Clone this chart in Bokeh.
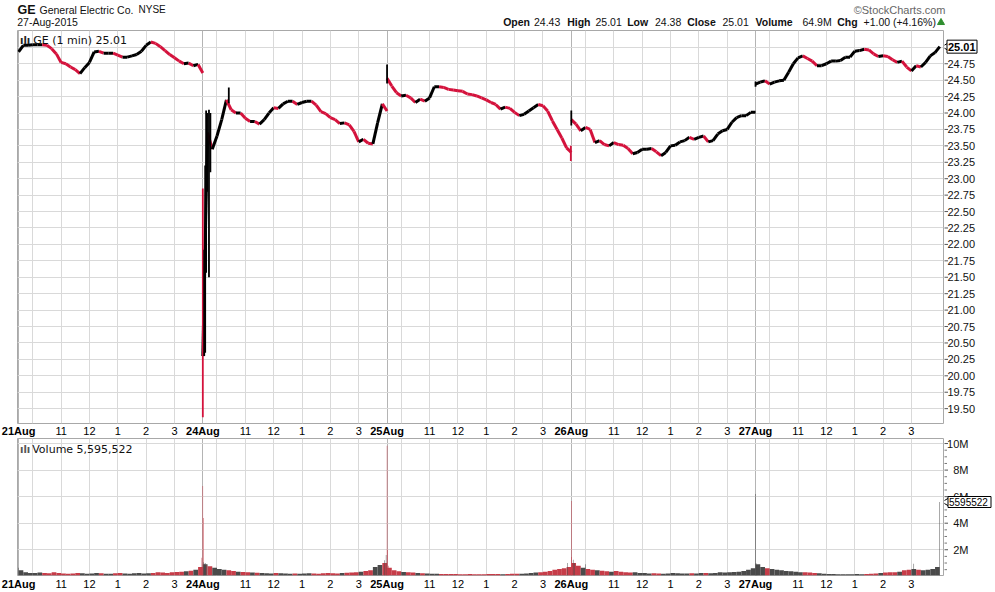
import math
from bokeh.plotting import figure
from bokeh.models import Range1d, ColumnDataSource, Grid, FixedTicker
from bokeh.layouts import column, row
from bokeh.embed import file_html
from bokeh.resources import INLINE
from bokeh.core.properties import value

# ---------------- data ----------------
day_labels = ["21Aug", "24Aug", "25Aug", "26Aug", "27Aug"]
minutes_per_day = 390
sample_step = 10
hour_minutes = [30, 90, 150, 210, 270, 330]      # 10:00 .. 3:00 (minutes after 9:30)
hour_labels = ["", "11", "12", "1", "2", "3"]

# 10-minute closes (9:30 .. 16:00)
close_aug21 = [24.93, 25.03, 25.03, 25.04, 25.04, 25.04, 25.03, 24.98, 24.90, 24.77,
               24.75, 24.70, 24.66, 24.60, 24.69, 24.77, 24.93, 24.94, 24.91, 24.91,
               24.91, 24.88, 24.85, 24.85, 24.87, 24.89, 24.94, 25.03, 25.08, 25.06,
               25.01, 24.95, 24.89, 24.84, 24.79, 24.75, 24.76, 24.72, 24.74, 24.61]
close_aug24 = [20.30, 23.70, 23.45, 23.65, 23.90, 24.20, 24.05, 24.00, 24.00, 23.92,
               23.87, 23.87, 23.83, 23.90, 24.00, 24.08, 24.07, 24.14, 24.18, 24.18,
               24.13, 24.16, 24.18, 24.18, 24.12, 24.02, 23.99, 23.93, 23.90, 23.84,
               23.85, 23.82, 23.72, 23.56, 23.60, 23.54, 23.53, 23.85, 24.14, 24.03]
close_aug25 = [24.53, 24.41, 24.31, 24.26, 24.27, 24.23, 24.16, 24.21, 24.18, 24.23,
               24.40, 24.40, 24.39, 24.36, 24.35, 24.34, 24.33, 24.29, 24.28, 24.26,
               24.23, 24.20, 24.16, 24.13, 24.06, 24.09, 24.07, 24.01, 23.96, 23.98,
               24.03, 24.08, 24.13, 24.11, 24.03, 23.88, 23.75, 23.62, 23.47, 23.40]
close_aug26 = [23.90, 23.83, 23.73, 23.78, 23.75, 23.55, 23.58, 23.52, 23.50, 23.55,
               23.52, 23.51, 23.46, 23.38, 23.40, 23.45, 23.45, 23.46, 23.41, 23.35,
               23.40, 23.50, 23.51, 23.56, 23.58, 23.63, 23.60, 23.63, 23.65, 23.56,
               23.58, 23.68, 23.73, 23.75, 23.86, 23.93, 23.96, 23.96, 24.01, 24.01]
close_aug27 = [24.44, 24.47, 24.49, 24.44, 24.47, 24.49, 24.50, 24.62, 24.75, 24.84,
               24.87, 24.83, 24.79, 24.72, 24.72, 24.75, 24.79, 24.79, 24.80, 24.85,
               24.85, 24.94, 24.95, 24.97, 24.96, 24.90, 24.86, 24.87, 24.86, 24.81,
               24.77, 24.79, 24.70, 24.64, 24.72, 24.70, 24.77, 24.87, 24.92, 25.01]
closes = [close_aug21, close_aug24, close_aug25, close_aug26, close_aug27]

# individual 1-minute bars that stick out (day index, minute, low, high, up?)
bar_day = [1, 1, 1, 1, 1, 1, 1, 1, 2, 2, 3, 4]
bar_min = [0, 3, 5, 7, 9, 13, 16, 55, 0, 389, 0, 0]
bar_low = [19.37, 20.30, 20.35, 21.57, 22.80, 21.50, 23.10, 24.15, 24.45, 23.27, 23.81, 24.40]
bar_high = [22.85, 21.92, 23.20, 24.04, 24.00, 24.05, 24.00, 24.39, 24.74, 23.50, 24.04, 24.48]
bar_up = [False, True, True, True, True, True, True, True, True, False, True, True]

price_ticks = [19.50, 19.75, 20.00, 20.25, 20.50, 20.75, 21.00, 21.25, 21.50, 21.75, 22.00,
               22.25, 22.50, 22.75, 23.00, 23.25, 23.50, 23.75, 24.00, 24.25, 24.50, 24.75]
price_tick_labels = ["19.50", "19.75", "20.00", "20.25", "20.50", "20.75", "21.00", "21.25",
                     "21.50", "21.75", "22.00", "22.25", "22.50", "22.75", "23.00", "23.25",
                     "23.50", "23.75", "24.00", "24.25", "24.50", "24.75"]
price_grid = price_ticks + [25.00]
last_close = 25.01
last_close_text = "25.01"

# volume, typical per-minute volume in each 10-minute block (thousands of shares)
vol_aug21 = [450, 300, 250, 250, 280, 250, 230, 300, 250, 220, 200, 220, 250, 230, 200, 220,
             250, 230, 200, 200, 230, 250, 220, 200, 230, 250, 220, 230, 250, 300, 280, 250,
             300, 320, 350, 380, 420, 500, 700]
vol_aug24 = [900, 750, 650, 550, 500, 450, 400, 350, 320, 300, 280, 260, 250, 230, 220, 250,
             230, 220, 200, 220, 200, 210, 230, 220, 200, 230, 250, 230, 220, 250, 260, 280,
             300, 350, 400, 450, 700, 850, 1000]
vol_aug25 = [650, 450, 380, 320, 300, 280, 250, 230, 220, 200, 200, 180, 180, 170, 170, 160,
             160, 170, 160, 150, 160, 170, 180, 170, 160, 180, 200, 190, 200, 220, 250, 280,
             300, 350, 400, 500, 550, 600, 700]
vol_aug26 = [1000, 800, 650, 550, 500, 450, 420, 380, 350, 400, 350, 300, 280, 300, 250, 250,
             220, 230, 220, 200, 220, 250, 230, 220, 210, 230, 220, 250, 240, 230, 250, 300,
             280, 300, 320, 350, 400, 500, 600]
vol_aug27 = [900, 700, 600, 550, 500, 450, 400, 380, 350, 300, 300, 280, 250, 230, 200, 180,
             170, 160, 160, 150, 150, 170, 160, 180, 200, 220, 250, 280, 300, 300, 350, 450,
             500, 550, 500, 450, 500, 550, 700]
vols = [vol_aug21, vol_aug24, vol_aug25, vol_aug26, vol_aug27]

# single-minute volume spikes (day, minute, millions, up?)
vspike_day = [0, 0, 1, 1, 1, 1, 1, 1, 1, 1, 2, 2, 2, 2, 3, 3, 3, 3, 3, 4, 4, 4, 4, 4]
vspike_min = [0, 388, 0, 1, 2, 3, 5, 8, 385, 388, 0, 1, 3, 382, 0, 1, 4, 7, 30, 0, 1, 3, 335, 389]
vspike_val = [0.64, 1.4, 6.8, 4.4, 1.05, 0.95, 1.0, 0.85, 1.2, 1.6, 9.83, 2.0, 0.8, 1.0,
              5.67, 1.45, 1.25, 1.0, 0.9, 6.2, 1.0, 0.8, 0.95, 5.595522]
vspike_up = [True, False, False, False, True, True, True, False, True, True, False, False,
             False, True, False, False, True, True, True, True, True, True, True, True]
vol_ticks = [2, 4, 6, 8, 10]
vol_tick_labels = ["2M", "4M", "6M", "8M", "10M"]
vol_minor = [0.5, 1, 1.5, 2.5, 3, 3.5, 4.5, 5, 5.5, 6.5, 7, 7.5, 8.5, 9, 9.5]
last_volume_text = "5595522"

header_items = [("Open", True), ("24.43", False), ("High", True), ("25.01", False),
                ("Low", True), ("24.38", False), ("Close", True), ("25.01", False),
                ("Volume", True), ("64.9M", False), ("Chg", True), ("+1.00 (+4.16%)", False)]

# ---------------- style / layout ----------------
RED = "#d4123c"
BLACK = "#000000"
VRED = "#c63c48"
VGRAY = "#4a4a4a"
GRID = "#d9d9d9"
DAYGRID = "#b4b4b4"
FRAME = "#a8a8a8"
SANS = "Liberation Sans"
W = 995
PANEL_L, PANEL_R = 17, 943          # panel frame edges on the page
AXIS_W = W - PANEL_R - 1            # width of the right-hand label strips
HEAD_H, PRICE_FH, MID_H, VOL_FH, FOOT_H = 29, 393, 13, 137, 15

X_START, X_END = -2.3, 1957.9
P_LO, P_HI = 19.274, 25.256
V_LO, V_HI = 0.06, 10.38
upp = (X_END - X_START) / (PANEL_R - PANEL_L)
ppu = PRICE_FH / (P_HI - P_LO)


def px(xp):
    return X_START + (xp - PANEL_L) * upp


def py(yp):
    return P_HI - (yp - 28) / ppu


day_starts = [d * minutes_per_day for d in range(5)]
hour_idx = [d * minutes_per_day + m for d in range(5) for m in hour_minutes]

x_panel = Range1d(X_START, X_END)
y_price = Range1d(P_LO, P_HI)
y_vol = Range1d(V_LO, V_HI)


def plain(width, height, xr, yr, border=0):
    f = figure(width=width, height=height, x_range=xr, y_range=yr, x_axis_type=None,
               y_axis_type=None, output_backend="svg", toolbar_location=None,
               min_border=border)
    f.outline_line_color = None
    f.background_fill_color = "white"
    f.border_fill_color = "white"
    return f


def texts(f, xs, ys, ts, size="11px", bold=False, align="left", baseline="alphabetic",
          color="#111111", font=SANS):
    f.text(x=xs, y=ys, text=ts, text_align=align, text_baseline=baseline,
           text_font=value(font), text_font_size=size,
           text_font_style="bold" if bold else "normal", text_color=color)


def panel_fig(frame_h, yr, hticks):
    f = plain(PANEL_R + 1, frame_h + 2, x_panel, yr)
    f.min_border_left = PANEL_L
    f.min_border_right = 1
    f.min_border_top = 1
    f.min_border_bottom = 1
    f.outline_line_color = FRAME
    f.add_layout(Grid(dimension=0, ticker=FixedTicker(ticks=hour_idx), grid_line_color=GRID))
    f.add_layout(Grid(dimension=0, ticker=FixedTicker(ticks=day_starts),
                      grid_line_color=DAYGRID))
    f.add_layout(Grid(dimension=1, ticker=FixedTicker(ticks=hticks), grid_line_color=GRID))
    return f


def axis_fig(frame_h, yr):
    f = plain(AXIS_W, frame_h + 2, Range1d(PANEL_R + 1, W), yr)
    f.min_border_top = 1
    f.min_border_bottom = 1
    return f


def strip(height):
    f = plain(W, height, Range1d(px(0), px(W)), Range1d(0, 1))
    texts(f, day_starts, [0.5] * 5, day_labels, bold=True, align="center", baseline="middle",
          color="black")
    hx, ht = [], []
    for d in range(5):
        for m, hl in zip(hour_minutes, hour_labels):
            if hl:
                hx.append(day_starts[d] + m)
                ht.append(hl)
    texts(f, hx, [0.5] * len(hx), ht, align="center", baseline="middle", color="black")
    return f


# ---------------- header ----------------
h = plain(W, HEAD_H, Range1d(0, W), Range1d(HEAD_H, 0))
texts(h, [17], [9], ["GE"], size="12.5px", bold=True, baseline="middle")
texts(h, [39], [9], ["General Electric Co."], size="10.5px", baseline="middle")
texts(h, [138], [9], ["NYSE"], size="10px", baseline="middle")
texts(h, [16.7], [21.5], ["27-Aug-2015"], size="10.5px", baseline="middle")
texts(h, [945], [9], ["\u00a9StockCharts.com"], align="right", color="#666666",
      baseline="middle")
hdr_x = [502.7, 533.5, 566.7, 595.0, 626.7, 654.5, 686.7, 722.0, 755.0, 802.0, 836.7, 863.0]
for (txt, bold), hx in zip(header_items, hdr_x):
    texts(h, [hx], [21.5], [txt], size="10.5px", bold=bold, baseline="middle")
h.scatter(x=[940.5], y=[22.0], marker="triangle", size=7, fill_color="#2f8f2f",
          line_color="#2f8f2f")

# ---------------- price panel ----------------
p = panel_fig(PRICE_FH, y_price, price_grid)

sx0, sy0, sx1, sy1, scol = [], [], [], [], []
for d, series in enumerate(closes):
    for i in range(len(series) - 1):
        sx0.append(day_starts[d] + i * sample_step)
        sx1.append(day_starts[d] + (i + 1) * sample_step)
        sy0.append(series[i])
        sy1.append(series[i + 1])
        scol.append(BLACK if series[i + 1] >= series[i] else RED)
p.segment(x0="x0", y0="y0", x1="x1", y1="y1", color="c", line_width=3,
          source=ColumnDataSource(dict(x0=sx0, y0=sy0, x1=sx1, y1=sy1, c=scol)))

bx = [day_starts[d] + m for d, m in zip(bar_day, bar_min)]
bc = [BLACK if u else RED for u in bar_up]
p.segment(x0="x", y0="lo", x1="x", y1="hi", color="c", line_width=1.8,
          source=ColumnDataSource(dict(x=bx, lo=bar_low, hi=bar_high, c=bc)))

texts(p, [px(19.5)], [py(38.3)], ["\u0131l\u0131"], size="10px", bold=True, color="#222222",
      font="DejaVu Sans")
texts(p, [px(32.7)], [py(38.3)], ["GE (1 min) 25.01"], font="DejaVu Sans")

pa = axis_fig(PRICE_FH, y_price)
pa.scatter(x=[PANEL_R + 2.5] * len(price_ticks), y=price_ticks, marker="dash", size=4,
           line_color="#555555", line_width=1)
texts(pa, [PANEL_R + 4] * len(price_ticks), price_ticks, price_tick_labels, baseline="middle")
pa.scatter(x=[PANEL_R + 3.5], y=[last_close], marker="triangle", angle=math.pi / 2, size=9,
           fill_color="white", line_color="black", line_width=1)
pa.rect(x=[PANEL_R + 18.5], y=[last_close], width=30, height=13, fill_color="white",
        line_color="black", line_width=1, height_units="screen")
texts(pa, [PANEL_R + 4.5], [last_close], [last_close_text], bold=True, baseline="middle",
      color="black")

mid = strip(MID_H)

# ---------------- volume panel ----------------
v = panel_fig(VOL_FH, y_vol, vol_ticks)

vx, vt, vc = [], [], []
for d, series in enumerate(vols):
    c = closes[d]
    for i, val in enumerate(series):
        vx.append(day_starts[d] + i * sample_step + sample_step / 2)
        vt.append(val / 1000.0)
        vc.append(VGRAY if c[i + 1] >= c[i] else VRED)
v.vbar(x="x", top="t", bottom=0, width=sample_step, color="c", line_color=None,
       source=ColumnDataSource(dict(x=vx, t=vt, c=vc)))

sxv = [day_starts[d] + m for d, m in zip(vspike_day, vspike_min)]
scl = [VGRAY if u else VRED for u in vspike_up]
v.vbar(x="x", top="t", bottom=0, width=1.0, color="c", line_color=None,
       source=ColumnDataSource(dict(x=sxv, t=vspike_val, c=scl)))

texts(v, [px(19.5)], [V_HI - 11.0 * (V_HI - V_LO) / VOL_FH], ["\u0131l\u0131"], size="10px",
      bold=True, color="#555555", font="DejaVu Sans")
texts(v, [px(31.7)], [V_HI - 11.0 * (V_HI - V_LO) / VOL_FH], ["Volume 5,595,522"],
      font="DejaVu Sans")

va = axis_fig(VOL_FH, y_vol)
va.scatter(x=[PANEL_R + 2.5] * len(vol_ticks), y=vol_ticks, marker="dash", size=4,
           line_color="#555555", line_width=1)
va.scatter(x=[PANEL_R + 2] * len(vol_minor), y=vol_minor, marker="dash", size=3,
           line_color="#777777", line_width=1)
texts(va, [968] * len(vol_ticks), vol_ticks, vol_tick_labels, align="right",
      baseline="middle")
va.scatter(x=[PANEL_R + 3.5], y=[vspike_val[-1]], marker="triangle", angle=math.pi / 2,
           size=9, fill_color="white", line_color="black", line_width=1)
va.rect(x=[PANEL_R + 26], y=[vspike_val[-1]], width=43, height=11, fill_color="white",
        line_color="black", line_width=1, height_units="screen")
texts(va, [PANEL_R + 5.5], [vspike_val[-1]], [last_volume_text], size="10px",
      baseline="middle", color="black")

foot = strip(FOOT_H)

layout = column(h, row(p, pa, spacing=0), mid, row(v, va, spacing=0), foot, spacing=0)
open("out.html", "w").write(file_html(layout, INLINE))
